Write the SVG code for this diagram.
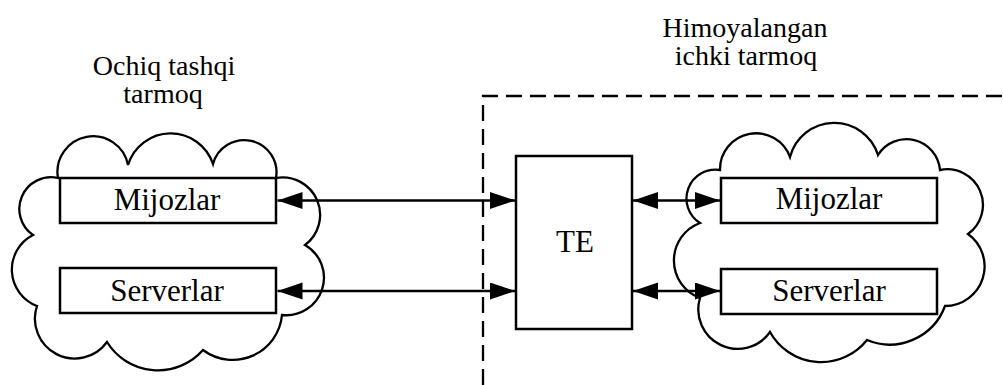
<svg xmlns="http://www.w3.org/2000/svg" width="1003" height="385" viewBox="0 0 1003 385">
<style>
.cloud{fill:#fff;stroke:#000;stroke-width:2.3;stroke-linejoin:miter}
.box{fill:#fff;stroke:#000;stroke-width:2.5}
.lbl{font-family:"Liberation Serif","Times New Roman",serif;font-size:31px;fill:#000;text-anchor:middle}
.cap{font-family:"Liberation Serif","Times New Roman",serif;font-size:28px;fill:#000;text-anchor:middle}
.conn{stroke:#000;stroke-width:2.3;fill:none;marker-start:url(#ah);marker-end:url(#ah)}
.zone{fill:none;stroke:#000;stroke-width:2.3;stroke-dasharray:16 8}
</style>
<defs>
<marker id="ah" markerUnits="userSpaceOnUse" markerWidth="26" markerHeight="18" refX="25" refY="8.5" orient="auto-start-reverse" viewBox="0 0 26 18">
<path d="M0,0 L25,8.5 L0,17 z" fill="#000"/>
</marker>
</defs>
<rect width="1003" height="385" fill="#fff"/>
<g id="zone">
<path class="zone" d="M483,385 L483,96 L1003,96"/>
<text class="cap" x="745" y="37">Himoyalangan</text>
<text class="cap" x="746" y="65">ichki tarmoq</text>
</g>
<g id="outer-network">
<text class="cap" x="164" y="75">Ochiq tashqi</text>
<text class="cap" x="163" y="103">tarmoq</text>
<path class="cloud" d="M58,178 A35.6,35.6 0 0 1 128,165 A44.6,44.6 0 0 1 213,164 A32.3,32.3 0 0 1 276,178 A37.5,37.5 0 0 1 305,245 A37.6,37.6 0 0 1 282,315 A49.5,49.5 0 0 1 203,350 A60,60 0 0 1 107,342 A39.8,39.8 0 0 1 37,306 A38.9,38.9 0 0 1 33,235 A31.7,31.7 0 0 1 58,178 Z"/>
</g>
<g id="inner-network">
<path class="cloud" d="M720,170 A36.1,36.1 0 0 1 790,157 A45.8,45.8 0 0 1 878,155 A33.6,33.6 0 0 1 940,170 A35.7,35.7 0 0 1 968,234 A39.7,39.7 0 0 1 945,306 A59,59 0 0 1 867,340 A58.5,58.5 0 0 1 770,332 A39.4,39.4 0 0 1 700,298 A40,40 0 0 1 700,223 A28.9,28.9 0 0 1 720,170 Z"/>
</g>
<g id="ext-clients">
<rect class="box" x="60" y="178" width="216" height="45"/>
<text class="lbl" x="167" y="210">Mijozlar</text>
</g>
<g id="ext-servers">
<rect class="box" x="60" y="268" width="216" height="45"/>
<text class="lbl" x="167" y="301">Serverlar</text>
</g>
<g id="te">
<rect class="box" x="516" y="156" width="116" height="173"/>
<text class="lbl" x="575" y="252">TE</text>
</g>
<g id="int-clients">
<rect class="box" x="721" y="178" width="216" height="45"/>
<text class="lbl" x="829" y="209">Mijozlar</text>
</g>
<g id="int-servers">
<rect class="box" x="721" y="269" width="216" height="45"/>
<text class="lbl" x="829" y="301">Serverlar</text>
</g>
<g id="connectors">
<line class="conn" x1="277.5" y1="200.5" x2="515" y2="200.5"/>
<line class="conn" x1="277.5" y1="291" x2="515" y2="291"/>
<line class="conn" x1="633" y1="200.5" x2="720" y2="200.5"/>
<line class="conn" x1="633" y1="291" x2="720" y2="291"/>
</g>
</svg>
